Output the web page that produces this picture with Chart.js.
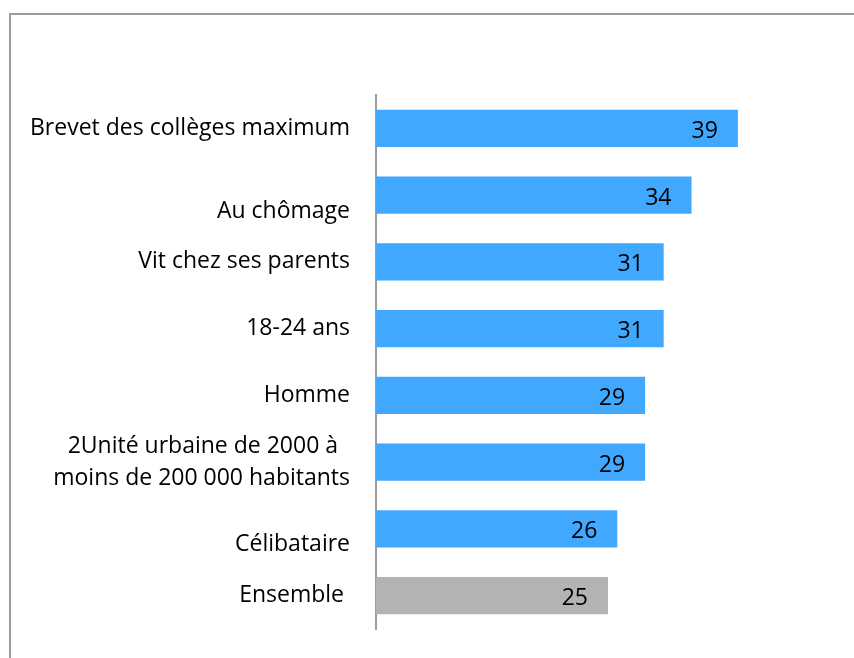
<!DOCTYPE html>
<html>
<head>
<meta charset="utf-8">
<script src="https://cdn.jsdelivr.net/npm/chart.js@4"></script>
<style>
  html, body { margin:0; padding:0; background:#fff; overflow:hidden; }
  #wrap { position:relative; width:854px; height:658px; }
  #frame { position:absolute; left:9px; top:13px; width:900px; height:700px; border:2px solid #9c9c9c; box-sizing:border-box; }
  #c { position:absolute; left:0; top:0; }
</style>
</head>
<body>
<div id="wrap">
  <div id="frame"></div>
  <canvas id="c" width="854" height="658"></canvas>
</div>
<script>
// categories (multi-line ones as arrays), top to bottom
const categories = [
  'Brevet des collèges maximum',
  ['', 'Au chômage'],
  'Vit chez ses parents',
  '18-24 ans',
  'Homme',
  ['2Unité urbaine de 2000 à  ', 'moins de 200 000 habitants'],
  ['', 'Célibataire'],
  'Ensemble '
];
const values = [39, 34, 31, 31, 29, 29, 26, 25];

const BLUE = '#40a8ff', GREY = '#b3b3b3';

// value labels near the end of each bar
const valueLabels = {
  id:'valueLabels',
  afterDatasetsDraw(chart){
    const ctx = chart.ctx;
    const meta = chart.getDatasetMeta(0);
    ctx.save();
    ctx.font = '23px "Open Sans"';
    ctx.fillStyle = '#000';
    ctx.textAlign = 'right';
    ctx.textBaseline = 'middle';
    meta.data.forEach((bar,i)=>{
      ctx.fillText(String(values[i]), bar.x - 20, bar.y + 3);
    });
    ctx.restore();
  }
};

Chart.defaults.font.family = '"Open Sans", sans-serif';
Chart.defaults.color = '#000';

new Chart(document.getElementById('c'), {
  type:'bar',
  data:{
    labels: categories,
    datasets:[{
      data: values,
      backgroundColor: ctx => ctx.index === categories.length-1 ? GREY : BLUE,
      borderWidth: 0,
      categoryPercentage: 1,
      barPercentage: 0.555
    }]
  },
  options:{
    indexAxis:'y',
    responsive:false,
    animation:false,
    layout:{ padding:{ top:95, bottom:29, left:0, right:14 } },
    plugins:{ legend:{display:false}, tooltip:{enabled:false} },
    scales:{
      x:{ display:false, min:0, max:50 },
      y:{
        grid:{ display:false, drawTicks:false },
        border:{ display:true, color:'#9c9c9c', width:2 },
        ticks:{ padding:26, font:{ size:23, lineHeight:1.38 }, color:'#000', autoSkip:false },
        afterFit(scale){
          scale.width = 376;
          // don't let label heights shrink the plot area
          scale.paddingTop = 0;
          scale.paddingBottom = 0;
        }
      }
    }
  },
  plugins:[valueLabels]
});
</script>
</body>
</html>
